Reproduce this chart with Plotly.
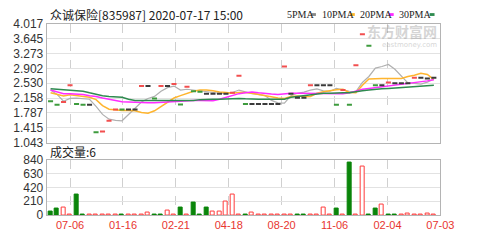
import plotly.graph_objects as go

W, H = 502, 240

# ---------------- data ----------------
N = 60
idx = list(range(N))
close = [2.08, 1.99, 2.06, 2.48, 2.01, 1.99, 1.99, 1.30, 1.32, 1.59,
         1.87, 1.87, 1.87, 1.87, 2.46, 2.46, 2.15, 2.46, 2.46, 2.51,
         2.00, 2.44, 2.33, 2.32, 2.27, 2.27, 2.27, 2.27, 2.29, 2.72,
         2.01, 2.01, 2.01, 2.01, 2.01, 2.01, 2.95, 2.27, 2.17, 2.17,
         2.48, 2.48, 2.48, 2.48, 1.99, 2.36, 1.99, 2.98, 3.76, 3.47,
         2.48, 2.48, 2.55, 2.53, 2.53, 2.53, 2.67, 2.67, 2.65, 2.67]
kind = ["g", "g", "r", "r", "g", "g", "k", "g", "r", "r",
        "r", "g", "k", "k", "r", "k", "g", "r", "k", "r",
        "g", "r", "g", "g", "k", "k", "k", "k", "r", "r",
        "g", "k", "k", "k", "k", "k", "r", "k", "k", "k",
        "r", "k", "k", "k", "g", "r", "g", "r", "r", "g",
        "g", "k", "r", "k", "k", "k", "r", "k", "k", "k"]

ma5 = [2.36, 2.25, 2.08, 2.15, 2.16, 2.15, 2.13, 1.95, 1.75, 1.63,
       1.60, 1.59, 1.75, 1.90, 2.06, 2.15, 2.20, 2.33, 2.42, 2.46,
       2.36, 2.38, 2.36, 2.34, 2.31, 2.29, 2.28, 2.27, 2.30, 2.36,
       2.32, 2.27, 2.25, 2.22, 2.10, 2.04, 2.03, 2.22, 2.28, 2.31,
       2.36, 2.39, 2.34, 2.33, 2.40, 2.37, 2.33, 2.32, 2.55, 2.70,
       2.91, 2.95, 3.00, 2.88, 2.72, 2.54, 2.53, 2.51, 2.56, 2.64]
ma10 = [2.29, 2.25, 2.21, 2.24, 2.22, 2.20, 2.18, 2.12, 1.97, 1.88,
        1.86, 1.85, 1.85, 1.84, 1.80, 1.78, 1.84, 1.95, 2.06, 2.16,
        2.22, 2.28, 2.33, 2.36, 2.36, 2.34, 2.31, 2.30, 2.28, 2.30,
        2.30, 2.28, 2.25, 2.23, 2.20, 2.16, 2.15, 2.20, 2.21, 2.19,
        2.20, 2.28, 2.32, 2.35, 2.37, 2.38, 2.30, 2.29, 2.48, 2.64,
        2.65, 2.65, 2.65, 2.65, 2.65, 2.70, 2.73, 2.78, 2.75, 2.62]
ma20 = [2.36, 2.32, 2.27, 2.27, 2.26, 2.25, 2.22, 2.20, 2.16, 2.13,
        2.09, 2.07, 2.06, 2.05, 2.04, 2.04, 2.04, 2.05, 2.06, 2.08,
        2.09, 2.10, 2.10, 2.10, 2.09, 2.09, 2.13, 2.18, 2.22, 2.27,
        2.29, 2.31, 2.29, 2.27, 2.26, 2.25, 2.27, 2.28, 2.28, 2.28,
        2.28, 2.28, 2.27, 2.27, 2.27, 2.27, 2.29, 2.34, 2.38, 2.40,
        2.42, 2.45, 2.46, 2.48, 2.51, 2.52, 2.54, 2.57, 2.59, 2.62]
ma30 = [2.39, 2.38, 2.37, 2.36, 2.34, 2.33, 2.29, 2.25, 2.22, 2.20,
        2.19, 2.18, 2.13, 2.10, 2.10, 2.10, 2.10, 2.10, 2.10, 2.10,
        2.10, 2.10, 2.10, 2.12, 2.13, 2.13, 2.13, 2.14, 2.14, 2.15,
        2.14, 2.13, 2.13, 2.13, 2.13, 2.13, 2.13, 2.18, 2.20, 2.22,
        2.25, 2.27, 2.28, 2.28, 2.29, 2.29, 2.29, 2.32, 2.34, 2.36,
        2.38, 2.39, 2.40, 2.41, 2.42, 2.44, 2.45, 2.46, 2.47, 2.48]

volume = [55, 105, 120, 4, 310, 4, 4, 4, 4, 4,
          4, 4, 4, 4, 4, 45, 4, 4, 65, 4,
          110, 4, 185, 4, 110, 55, 55, 210, 310, 4,
          4, 40, 4, 4, 4, 4, 4, 4, 4, 4,
          4, 4, 120, 4, 105, 4, 800, 4, 740, 4,
          105, 155, 4, 4, 4, 30, 4, 4, 30, 6]
vol_up = [False, False, True, True, False, False, True, True, True, True,
          True, False, True, True, True, True, False, False, True, True,
          False, True, False, False, False, True, True, True, True, True,
          False, True, True, True, True, True, True, True, False, False,
          True, True, True, True, False, True, False, True, True, False,
          False, True, False, False, True, True, True, True, True, True]

price_ticks = [1.043, 1.415, 1.787, 2.158, 2.530, 2.902, 3.273, 3.645, 4.017]
price_tick_text = ["1.043", "1.415", "1.787", "2.158", "2.530", "2.902", "3.273", "3.645", "4.017"]
vol_ticks = [0, 210, 420, 630, 840]
date_labels = ["07-06", "01-16", "02-21", "04-18", "08-20", "11-06", "02-04", "07-03"]
date_pos = [3 + k * 57 / 7 for k in range(8)]

legend_names = ["5PMA", "10PMA", "20PMA", "30PMA"]

# ---------------- figure ----------------
RED = "#f24f4f"
GREEN = "#3d9b3d"
DARK = "#3a3a3a"
col_map = {"r": RED, "g": GREEN, "k": DARK}
ma_colors = ["#b0b0b0", "#ffb52e", "#ff2cff", "#2e8b4f"]

fig = go.Figure()

# moving averages
for vals, c, w in zip([ma5, ma10, ma20, ma30], ma_colors, [1.2, 1.5, 1.5, 1.5]):
    fig.add_trace(go.Scatter(x=idx, y=vals, mode="lines",
                             line=dict(color=c, width=w),
                             xaxis="x", yaxis="y", hoverinfo="skip"))

# candles (flat dashes)
fig.add_trace(go.Scatter(
    x=idx, y=close, mode="markers", xaxis="x", yaxis="y",
    marker=dict(symbol="line-ew", size=3.6,
                line=dict(width=2, color=[col_map[k] for k in kind])),
    hoverinfo="skip"))

# volume bars
fig.add_trace(go.Bar(
    x=idx, y=volume, xaxis="x2", yaxis="y2", width=0.6,
    marker=dict(color=["white" if u else "#0a850a" for u in vol_up],
                line=dict(color=["#ff3b3b" if u else "#0a850a" for u in vol_up],
                          width=1)),
    hoverinfo="skip"))

x0, x1 = 48 / W, 453 / W
xr = [-0.6, 60.0]
grid_v = dict(showgrid=True, gridcolor="#d0d0d0", griddash="dash", gridwidth=1)

fig.update_layout(
    width=W, height=H, margin=dict(l=0, r=0, t=0, b=0),
    paper_bgcolor="white", plot_bgcolor="white", showlegend=False,
    bargap=0,
    xaxis=dict(domain=[x0, x1], range=xr, anchor="y", tickvals=date_pos,
               showticklabels=False, ticks="", zeroline=False,
               showline=True, linecolor="#b4b4b4", mirror=True, **grid_v),
    yaxis=dict(domain=[1 - 144 / H, 1 - 18 / H], range=[1.043, 4.017],
               tickvals=price_ticks, ticktext=price_tick_text,
               tickfont=dict(family="Liberation Sans", size=12, color="#333"),
               showgrid=True, gridcolor="#e2e2e2", zeroline=False,
               showline=True, linecolor="#b4b4b4", mirror=True, ticks=""),
    xaxis2=dict(domain=[x0, x1], range=xr, anchor="y2", tickvals=date_pos,
                ticktext=date_labels, ticks="",
                tickfont=dict(family="Liberation Sans", size=11, color="#e8352f"),
                zeroline=False, showline=True, linecolor="#b4b4b4",
                mirror=True, **grid_v),
    yaxis2=dict(domain=[1 - 221 / H, 1 - 162 / H], range=[0, 840],
                tickvals=vol_ticks, anchor="x2",
                tickfont=dict(family="Liberation Sans", size=12, color="#333"),
                showgrid=True, gridcolor="#e2e2e2", zeroline=False,
                showline=True, linecolor="#b4b4b4", mirror=True, ticks=""),
)

ann = []
shapes = []
ann.append(dict(x=49 / W, y=1 - 8 / H, xref="paper", yref="paper",
                text="众诚保险[835987] 2020-07-17 15:00", showarrow=False,
                xanchor="left", yanchor="middle",
                font=dict(family="Noto Sans CJK SC", size=12, color="#222")))
ann.append(dict(x=49 / W, y=1 - 153 / H, xref="paper", yref="paper",
                text="成交量:6", showarrow=False, xanchor="left", yanchor="middle",
                font=dict(family="Noto Sans CJK SC", size=12, color="#222")))
# legend: names and colour swatches
name_x = [293, 329, 368, 408]
swatch_x = [320, 360, 400, 442]
for name, c, px, sx in zip(legend_names, ma_colors, name_x, swatch_x):
    ann.append(dict(x=px / W, y=1 - 8 / H, xref="paper", yref="paper",
                    text=name, showarrow=False, xanchor="left", yanchor="middle",
                    font=dict(family="Liberation Serif", size=10, color="#222")))
    shapes.append(dict(type="rect", xref="paper", yref="paper",
                       x0=sx / W, x1=(sx + 5) / W,
                       y0=1 - 9.5 / H, y1=1 - 6.5 / H,
                       fillcolor="#888" if name == "5PMA" else c,
                       line=dict(width=0)))
ann.append(dict(x=452 / W, y=1 - 26 / H, xref="paper", yref="paper",
                text="<b>东方财富网</b>", showarrow=False, xanchor="right",
                yanchor="middle", opacity=0.3,
                font=dict(family="Noto Sans CJK SC", size=14, color="#777")))
ann.append(dict(x=452 / W, y=1 - 40 / H, xref="paper", yref="paper",
                text="eastmoney.com", showarrow=False, xanchor="right",
                yanchor="middle", opacity=0.3,
                font=dict(family="DejaVu Sans", size=7, color="#777")))
fig.update_layout(annotations=ann, shapes=shapes)

fig.write_html("out.html")
